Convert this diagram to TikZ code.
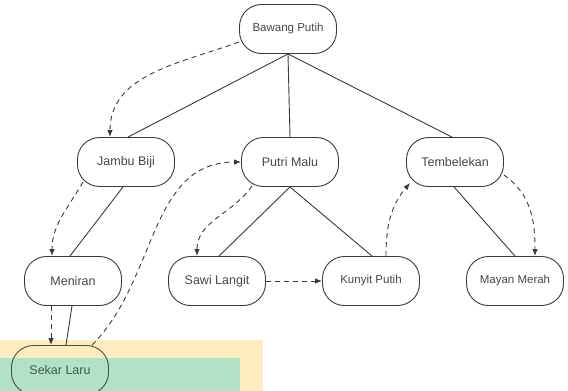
\documentclass[tikz,border=0pt]{standalone}
\usepackage{fontspec}
\setmainfont{Liberation Sans}
\definecolor{edgegray}{RGB}{58, 58, 58}
\definecolor{textgray}{RGB}{70, 70, 70}
\definecolor{noteyellow}{RGB}{252, 236, 192}
\definecolor{notegreen}{RGB}{178, 226, 198}
\definecolor{noteedge}{RGB}{70, 78, 60}
\definecolor{notetext}{RGB}{62, 92, 74}
\usetikzlibrary{arrows.meta}

\begin{document}
\begin{tikzpicture}[
                    x=1pt,
                    y=-1pt,
                    plant/.style={
                        draw=edgegray,
                        line width=0.9pt,
                        rounded corners=22pt,
                        minimum width=97pt,
                        minimum height=49pt,
                        inner sep=0pt,
                        text=textgray,
                        font=\fontsize{12.5}{15}\selectfont
                    },
                    plant small/.style={
                        plant,
                        font=\fontsize{11.5}{14}\selectfont
                    },
                    link/.style={
                        draw=edgegray,
                        line width=0.9pt
                    },
                    dep/.style={
                        link,
                        dash pattern=on 5pt off 4pt,
                        -{Latex[length=7pt,width=5.5pt]}
                    }
                ]
                    \clip (0,0) rectangle (568,391);

                    \fill[noteyellow] (0,340) rectangle (263,391);
                    \fill[notegreen] (0,358) rectangle (240,391);

                    \node[plant small] (bp) at (288,29)  {Bawang Putih};
                    \node[plant]       (jb) at (126,162) {Jambu Biji};
                    \node[plant]       (pm) at (290,162) {Putri Malu};
                    \node[plant]       (tb) at (455,162) {Tembelekan};
                    \node[plant]       (mn) at (73,281)  {Meniran};
                    \node[plant]       (sl) at (217,281) {Sawi Langit};
                    \node[plant small] (ku) at (371,281) {Kunyit Putih};
                    \node[plant small] (mm) at (515,281) {Mayan Merah};
                    \node[plant, draw=noteedge, text=notetext] (sk) at (60,370) {Sekar Laru};

                    \draw[link] (bp.south) -- ([xshift=2pt]jb.north);
                    \draw[link] (bp.south) -- (pm.north);
                    \draw[link] (bp.south) -- ([xshift=-3pt]tb.north);
                    \draw[link] ([xshift=-3pt]jb.south) -- ([xshift=-3pt]mn.north);
                    \draw[link] (pm.south) -- ([xshift=2pt]sl.north);
                    \draw[link] (pm.south) -- ([xshift=1pt]ku.north);
                    \draw[link] ([xshift=-1pt]tb.south) -- (mm.north);
                    \draw[link] ([xshift=-1pt]mn.south) -- ([xshift=6pt]sk.north);

                    \draw[dep] ([yshift=-13pt]bp.west) to[out=200, in=90] ([xshift=-16pt]jb.north);
                    \draw[dep] ([xshift=6pt,yshift=5pt]jb.south west) to[out=240, in=90] ([xshift=-21pt]mn.north);
                    \draw[dep] ([xshift=-22pt]mn.south) -- ([xshift=-22pt]mn.south |- sk.north);
                    \draw[dep] ([xshift=32pt]sk.north) to[out=45, in=180] (pm.west);
                    \draw[dep] ([xshift=11pt,yshift=1pt]pm.south west) to[out=235, in=90] ([xshift=-20pt]sl.north);
                    \draw[dep] (sl.east) -- (ku.west);
                    \draw[dep] ([xshift=15pt]ku.north) to[out=90, in=230] ([xshift=4pt,yshift=4pt]tb.south west);
                    \draw[dep] ([yshift=-13pt]tb.east) to[out=-35, in=90] ([xshift=20pt]mm.north);
                \end{tikzpicture}
\end{document}
